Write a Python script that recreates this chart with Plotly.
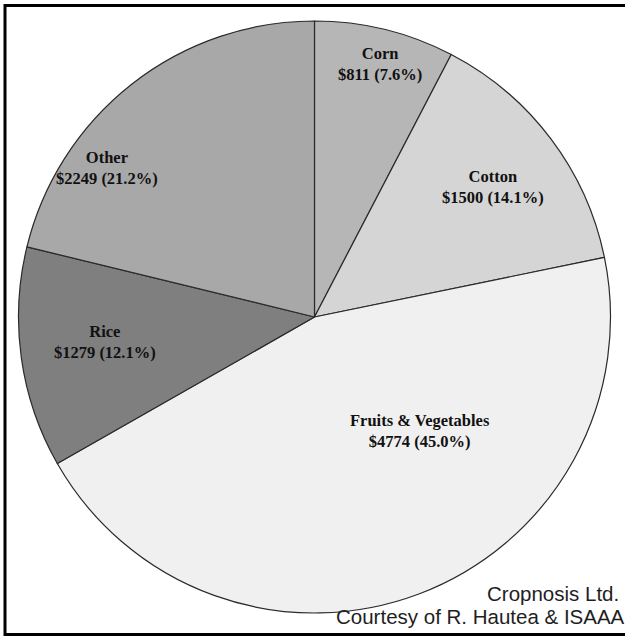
import plotly.graph_objects as go

# Crop value shares
crops = ["Corn", "Cotton", "Fruits & Vegetables", "Rice", "Other"]
values = [811, 1500, 4774, 1279, 2249]
slice_colors = ["#b6b6b6", "#d5d5d5", "#f0f0f0", "#7f7f7f", "#a8a8a8"]

credit_lines = ["Cropnosis Ltd.", "Courtesy of R. Hautea & ISAAA"]

W, H = 625, 637

# label block centres in pixels (x from left, y from top)
label_px = [(380, 64), (493, 187), (420, 431), (105, 342), (107, 168)]

total = sum(values)

fig = go.Figure()
fig.add_trace(go.Pie(
    labels=crops,
    values=values,
    sort=False,
    direction="clockwise",
    rotation=0,
    marker=dict(colors=slice_colors, line=dict(color="#2a2a2a", width=1.2)),
    textinfo="none",
    hoverinfo="label+value+percent",
    showlegend=False,
    domain=dict(x=[18 / W, 611 / W], y=[24 / H, 616 / H]),
))

annotations = []
for name, v, (px, py) in zip(crops, values, label_px):
    pct = 100.0 * v / total
    annotations.append(dict(
        x=px / W, y=1 - py / H, xref="paper", yref="paper",
        xanchor="center", yanchor="middle", showarrow=False,
        text=f"<b>{name}<br>${v} ({pct:.1f}%)</b>",
        font=dict(family="Liberation Serif, Times New Roman, serif", size=16.5, color="#111111"),
    ))

credit_font = dict(family="Liberation Sans, Arial, sans-serif", size=20.5, color="#1e1e1e")
annotations.append(dict(
    x=621 / W, y=1 - 607 / H, xref="paper", yref="paper",
    xanchor="right", yanchor="bottom", showarrow=False,
    text=credit_lines[0], font=credit_font,
))
annotations.append(dict(
    x=627 / W, y=1 - 630 / H, xref="paper", yref="paper",
    xanchor="right", yanchor="bottom", showarrow=False,
    text=credit_lines[1], font=credit_font,
))

fig.update_layout(
    width=W, height=H,
    margin=dict(l=0, r=0, t=0, b=0),
    paper_bgcolor="white",
    plot_bgcolor="white",
    annotations=annotations,
    shapes=[dict(
        type="rect", xref="paper", yref="paper",
        x0=5 / W, x1=1.05, y0=1 - 634.5 / H, y1=1 - 5.5 / H,
        line=dict(color="black", width=3), fillcolor="rgba(0,0,0,0)",
        layer="above",
    )],
)

fig.write_html("out.html")
